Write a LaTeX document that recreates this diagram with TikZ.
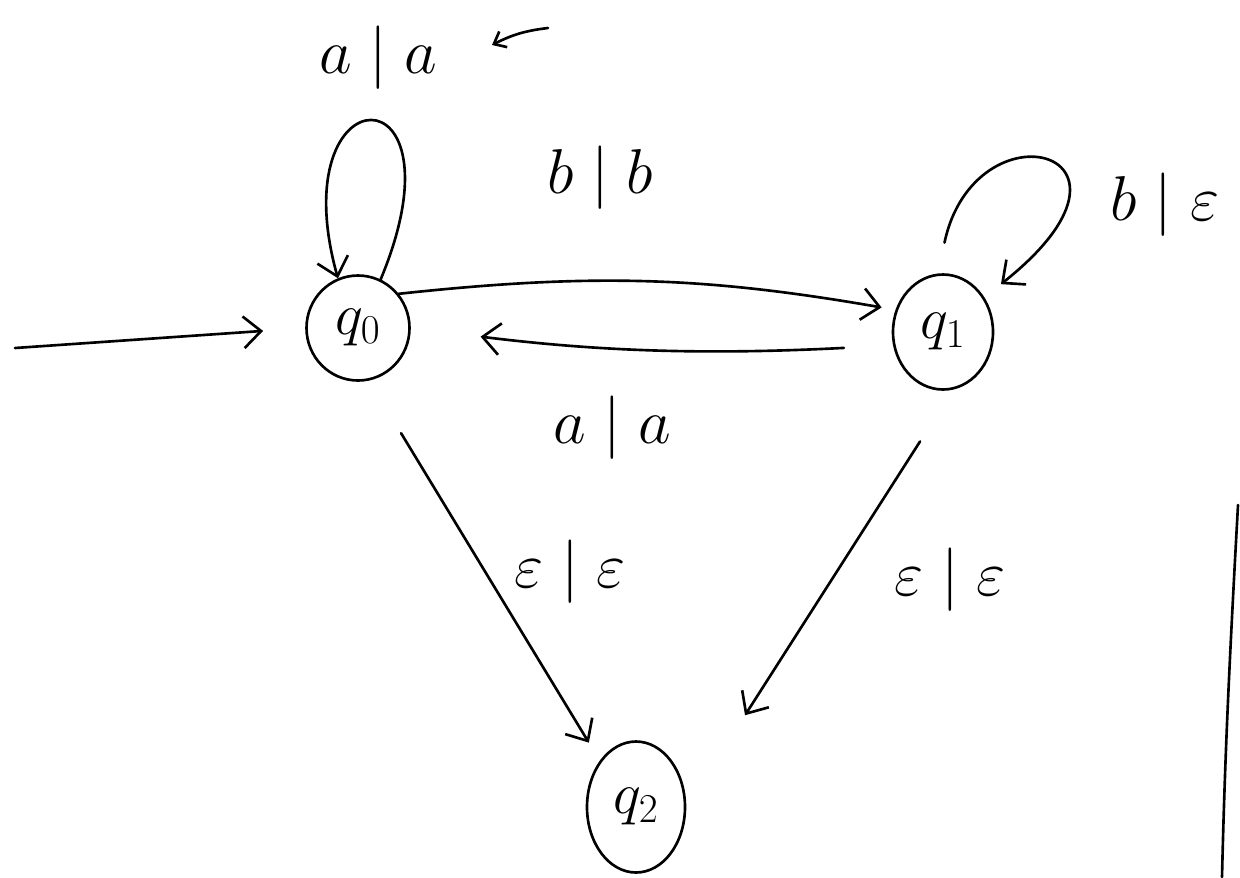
\documentclass[tikz,border=0pt]{standalone}
\usepackage{graphicx}
\usetikzlibrary{arrows.meta,shapes.geometric}
\newcommand{\bigtxt}[1]{\scalebox{1.45}{#1}}
\newcommand{\sttxt}[1]{\scalebox{1.35}{#1}}
\begin{document}
\begin{tikzpicture}[x=0.02cm,y=-0.02cm,
  every path/.style={line width=1.5pt, line cap=round},
  state/.style={draw, ellipse, inner sep=0pt, font=\fontsize{24}{30}\selectfont},
  lbl/.style={font=\fontsize{24}{30}\selectfont},
  tr/.style={draw, -{Straight Barb[length=10pt,width=18pt]}}]
\useasboundingbox (0,0) rectangle (1240,877);
\node[state, minimum width=103*0.02cm, minimum height=105*0.02cm] (q0) at (358,328) {\sttxt{$q_0$}};
\node[state, minimum width=100*0.02cm, minimum height=115*0.02cm] (q1) at (943,332) {\sttxt{$q_1$}};
\node[state, minimum width=98*0.02cm, minimum height=131*0.02cm] (q2) at (636,807) {\sttxt{$q_2$}};
\coordinate (init) at (15,348);
\draw[tr, shorten >=24pt] (init) -- (q0.west);
% q0 loop
\draw[tr] (q0.65) .. controls (470,65) and (280,70) .. (q0.112);
\node[lbl] (l00) at (378,58) {\bigtxt{$a \mid a$}};
\coordinate (s1) at (548,28);
\coordinate (s2) at (492,45);
\draw[tr, -{Straight Barb[length=6pt,width=10pt]}] (s1) to[bend right=10] (s2);
% q0 -> q1
\draw[tr, shorten >=8pt] (q0.40) to[bend left=8] (q1.155);
\node[lbl] (l01) at (600,178) {\bigtxt{$b \mid b$}};
% q1 -> q0
\draw[tr, shorten <=28pt, shorten >=40pt] (q1.195) to[bend left=5] (q0.east);
\node[lbl] (l10) at (612,428) {\bigtxt{$a \mid a$}};
% q1 loop
\draw[tr, shorten <=18pt, shorten >=12pt] (q1.95) .. controls (975,100) and (1170,150) .. (q1.40);
\node[lbl] (l11) at (1165,205) {\bigtxt{$b \mid \varepsilon$}};
% q0 -> q2
\draw[tr, shorten <=35pt, shorten >=12pt] (q0.-78) -- (q2.128);
\node[lbl] (l02) at (570,572) {\bigtxt{$\varepsilon \mid \varepsilon$}};
% q1 -> q2
\draw[tr, shorten <=35pt, shorten >=62pt] (q1.-80) -- (q2.east);
\node[lbl] (l12) at (950,580) {\bigtxt{$\varepsilon \mid \varepsilon$}};
% stray line
\coordinate (v1) at (1238,505);
\coordinate (v2) at (1222,877);
\draw (v1) .. controls (1230,650) and (1225,750) .. (v2);
\end{tikzpicture}
\end{document}
